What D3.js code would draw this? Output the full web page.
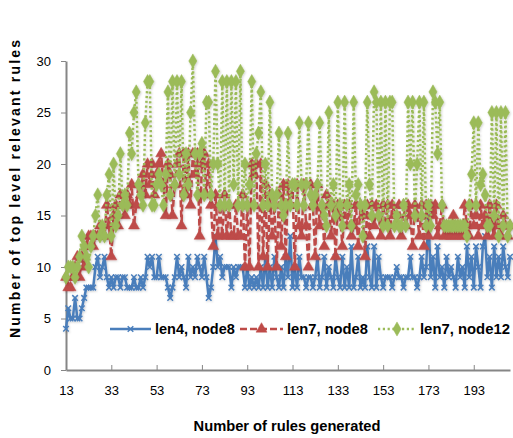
<!DOCTYPE html>
<html>
<head>
<meta charset="utf-8">
<script src="https://cdn.jsdelivr.net/npm/d3@7"></script>
<style>
  body { margin: 0; background: white; }
  text { font-family: "Liberation Sans", Arial, sans-serif; }
</style>
</head>
<body>
<div id="viz"></div>
<script>
// x categories run 13 .. 209
const firstRule = 13;
const xTicks = [13, 33, 53, 73, 93, 113, 133, 153, 173, 193];
const yTicks = [0, 5, 10, 15, 20, 25, 30];

const len4node8 = [
  4, 6, 5, 5, 7, 5, 5, 6, 7, 8,
  8, 8, 8, 10, 11, 9, 10, 11, 9, 8,
  9, 8, 9, 9, 8, 9, 9, 8, 8, 8,
  9, 8, 8, 9, 8, 9, 11, 10, 11, 9,
  9, 11, 9, 9, 9, 8, 7, 8, 9, 11,
  9, 10, 9, 8, 11, 9, 10, 9, 11, 10,
  9, 11, 9, 7, 8, 10, 13, 10, 11, 9,
  10, 10, 10, 8, 10, 9, 10, 10, 10, 8,
  10, 8, 9, 8, 9, 8, 10, 8, 11, 8,
  10, 8, 11, 9, 8, 10, 8, 11, 9, 13,
  8, 10, 8, 11, 9, 9, 8, 9, 9, 8,
  9, 11, 8, 9, 11, 8, 10, 9, 8, 11,
  9, 8, 11, 8, 10, 8, 12, 8, 9, 11,
  8, 9, 8, 12, 9, 8, 12, 8, 11, 9,
  8, 9, 9, 9, 8, 9, 10, 9, 9, 8,
  9, 9, 11, 9, 9, 8, 9, 11, 9, 10,
  15, 9, 11, 8, 12, 9, 10, 8, 11, 9,
  10, 9, 8, 11, 9, 10, 8, 12, 9, 11,
  8, 12, 10, 8, 12, 13, 9, 11, 8, 12,
  9, 11, 9, 12, 10, 9, 11
];

const len7node8 = [
  9, 8, 8, 9, 10, 11, 9, 11, 10, 12,
  13, 13, 12, 13, 13, 14, 13, 13, 16, 14,
  11, 15, 16, 14, 17, 16, 15, 17, 16, 18,
  14, 16, 18, 17, 19, 17, 20, 18, 20, 17,
  19, 20, 21, 18, 15, 20, 19, 15, 18, 20,
  21, 14, 21, 17, 21, 16, 21, 19, 21, 13,
  20, 21, 17, 20, 16, 12, 17, 13, 16, 13,
  17, 13, 16, 13, 13, 16, 13, 13, 17, 10,
  16, 10, 20, 19, 20, 10, 20, 11, 18, 10,
  17, 13, 16, 10, 17, 12, 18, 11, 18, 16,
  18, 10, 18, 14, 13, 18, 14, 10, 18, 16,
  11, 18, 14, 16, 12, 17, 16, 13, 16, 11,
  16, 15, 12, 16, 14, 16, 13, 14, 16, 12,
  16, 15, 11, 16, 13, 16, 14, 16, 15, 13,
  16, 14, 16, 13, 16, 15, 14, 16, 13, 16,
  14, 16, 15, 12, 16, 15, 13, 16, 12, 16,
  13, 16, 15, 16, 13, 14, 16, 13, 14, 13,
  13, 15, 13, 14, 13, 13, 16, 14, 13, 16,
  14, 15, 13, 16, 14, 15, 13, 16, 14, 13,
  16, 14, 13, 15, 14, 13, 14
];

const len7node12 = [
  9, 10, 10, 10, 9, 10, 11, 13, 12, 11,
  10, 12, 13, 15, 17, 13, 14, 13, 17, 19,
  13, 20, 14, 15, 21, 16, 17, 16, 23, 21,
  25, 27, 18, 17, 16, 24, 28, 28, 16, 16,
  18, 19, 18, 16, 19, 27, 17, 28, 18, 28,
  19, 28, 17, 21, 18, 25, 30, 21, 17, 21,
  22, 17, 26, 26, 17, 20, 29, 20, 16, 28,
  16, 28, 16, 28, 18, 28, 16, 29, 16, 20,
  16, 18, 28, 16, 21, 23, 27, 16, 20, 16,
  26, 17, 16, 17, 23, 16, 15, 16, 23, 16,
  18, 18, 16, 24, 18, 16, 18, 24, 17, 16,
  17, 18, 24, 16, 15, 14, 25, 16, 18, 15,
  26, 16, 14, 26, 16, 18, 14, 26, 17, 18,
  16, 13, 16, 26, 18, 15, 27, 26, 15, 26,
  14, 26, 14, 26, 26, 14, 15, 14, 14, 16,
  14, 26, 20, 26, 15, 20, 26, 15, 26, 14,
  16, 14, 27, 26, 21, 26, 16, 14, 14, 14,
  14, 14, 14, 14, 14, 14, 14, 13, 16, 19,
  24, 16, 24, 18, 19, 17, 14, 14, 25, 15,
  25, 13, 25, 14, 25, 13, 14
];

const seriesNames = ["len4, node8", "len7, node8", "len7, node12"];
const seriesColors = ["#4a7ebb", "#be4b48", "#9bbb59"];

const width = 513;
const height = 438;
const margin = { left: 66, right: 3, top: 61, bottom: 68 };

const svg = d3.select("#viz")
  .append("svg")
  .attr("width", width)
  .attr("height", height)
  .style("background-color", "white");

// soft shadow like the office chart
const defs = svg.append("defs");
const shadow = defs.append("filter").attr("id", "shadow")
  .attr("x", "-50%").attr("y", "-50%").attr("width", "200%").attr("height", "200%");
shadow.append("feDropShadow")
  .attr("dx", 0.8).attr("dy", 1)
  .attr("stdDeviation", 1.2)
  .attr("flood-color", "#000")
  .attr("flood-opacity", 0.2);

const lastRule = firstRule + len4node8.length - 1;

const x = d3.scaleLinear()
  .domain([firstRule, lastRule])
  .range([margin.left, width - margin.right]);

const y = d3.scaleLinear()
  .domain([0, 30])
  .range([height - margin.bottom, margin.top]);

// axes
const xAxis = svg.append("g")
  .attr("transform", `translate(0,${y(0)})`)
  .call(d3.axisBottom(x).tickValues(xTicks).tickSize(-5).tickPadding(16).tickSizeOuter(0));

const yAxis = svg.append("g")
  .attr("transform", `translate(${x(firstRule)},0)`)
  .call(d3.axisLeft(y).tickValues(yTicks).tickSize(5).tickPadding(10).tickSizeOuter(0));

[xAxis, yAxis].forEach(g => {
  g.select(".domain").attr("stroke", "#868686").attr("stroke-width", 2);
  g.selectAll(".tick line").attr("stroke", "#868686").attr("stroke-width", 1);
  g.selectAll(".tick text")
    .attr("fill", "#000")
    .style("font-size", "13px");
});
xAxis.selectAll(".tick").filter(d => d === firstRule).select("line").remove();

// series
const allSeries = [len4node8, len7node8, len7node12];

const line = d3.line()
  .x((d, i) => x(firstRule + i))
  .y(d => y(d));

const dashes = [null, "7,3", "2.2,2.6"];

const markerPath = [
  d3.symbol().type(d3.symbolX).size(22)(),
  d3.symbol().type(d3.symbolTriangle).size(52)(),
  d3.symbol().type(d3.symbolDiamond).size(58)()
];

allSeries.forEach((values, s) => {
  const g = svg.append("g").attr("filter", "url(#shadow)");
  g.append("path")
    .datum(values)
    .attr("d", line)
    .attr("fill", "none")
    .attr("stroke", seriesColors[s])
    .attr("stroke-width", 2.5)
    .attr("stroke-dasharray", dashes[s]);

  g.selectAll(".pt")
    .data(values)
    .enter()
    .append("path")
    .attr("transform", (d, i) => `translate(${x(firstRule + i)},${y(d)})`)
    .attr("d", markerPath[s])
    .attr("fill", s === 0 ? "none" : seriesColors[s])
    .attr("stroke", seriesColors[s])
    .attr("stroke-width", s === 0 ? 1.5 : 0.5);
});

// legend
const legendY = 329;
const legendItems = [
  { x0: 110, x1: 151, tx: 155, w: 80 },
  { x0: 240, x1: 283, tx: 287, w: 81 },
  { x0: 378, x1: 416, tx: 420, w: 90 }
];

legendItems.forEach((it, s) => {
  const g = svg.append("g");
  g.append("line")
    .attr("x1", it.x0).attr("x2", it.x1)
    .attr("y1", legendY).attr("y2", legendY)
    .attr("stroke", seriesColors[s])
    .attr("stroke-width", 2.5)
    .attr("stroke-dasharray", dashes[s]);
  g.append("path")
    .attr("transform", `translate(${(it.x0 + it.x1) / 2},${legendY})`)
    .attr("d", markerPath[s])
    .attr("fill", s === 0 ? "none" : seriesColors[s])
    .attr("stroke", seriesColors[s])
    .attr("stroke-width", s === 0 ? 1.5 : 0.5);
  const t = g.append("text")
    .attr("x", it.tx)
    .attr("y", legendY + 5)
    .style("font-size", "14px")
    .style("font-weight", "bold")
    .text(seriesNames[s]);
  const len = t.node().getComputedTextLength();
  t.style("font-size", (14 * it.w / len) + "px");
});

// axis titles
const xTitle = svg.append("text")
  .attr("x", 287)
  .attr("y", 431)
  .attr("text-anchor", "middle")
  .style("font-weight", "bold")
  .style("font-size", "14px")
  .text("Number of rules generated");
xTitle.style("font-size", (14 * 187 / xTitle.node().getComputedTextLength()) + "px");

const yTitle = svg.append("text")
  .attr("transform", "translate(20,189) rotate(-90)")
  .attr("text-anchor", "middle")
  .style("font-weight", "bold")
  .style("font-size", "14px")
  .attr("textLength", 298)
  .attr("lengthAdjust", "spacing")
  .text("Number of top level relevant rules");
</script>
</body>
</html>
